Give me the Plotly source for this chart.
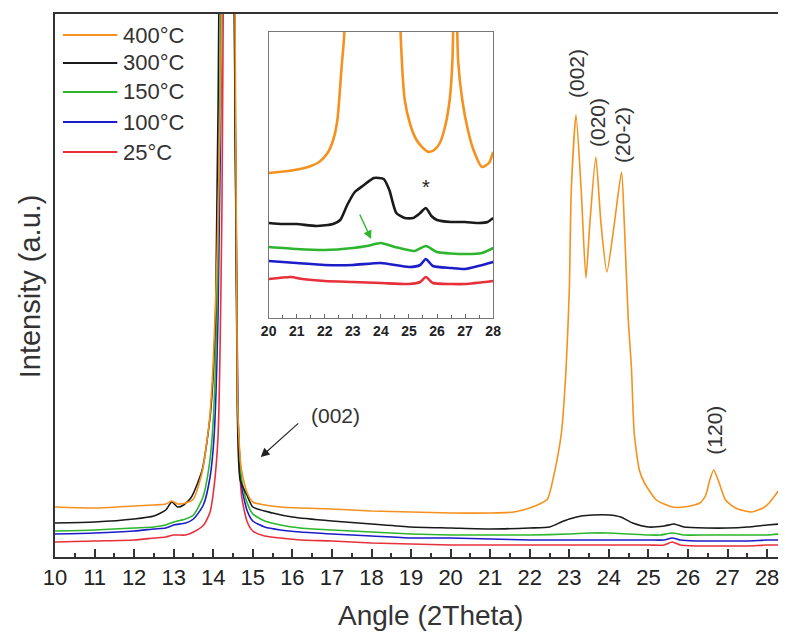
import plotly.graph_objects as go

# ---------------- data: XRD scans, 2θ in degrees, intensity in a.u. (stacked) ----------------
x_400 = [10.0, 11.0, 12.0, 12.5, 12.8, 12.95, 13.1, 13.3, 13.5, 13.72, 13.9, 14.0, 14.1, 14.21, 14.31,
         14.41, 14.51, 14.61, 14.71, 14.85, 15.0, 15.3, 15.7, 16.2, 17.0, 18.0, 19.0, 20.0, 21.0, 21.6,
         22.0, 22.3, 22.45, 22.6, 22.8, 22.92, 23.0, 23.05, 23.17, 23.3, 23.42, 23.52, 23.67, 23.8, 23.95,
         24.14, 24.32, 24.39, 24.49, 24.57, 24.64, 24.77, 24.9, 25.2, 25.6, 25.9, 26.3, 26.45, 26.55, 26.65,
         26.78, 26.95, 27.2, 27.6, 27.9, 28.05, 28.3]
i_400 = [50, 49, 51, 52, 53, 56, 53, 54, 58, 85, 135, 195, 305, 520, 1100,
         1700, 1000, 160, 88, 65, 55, 52, 50, 49, 48, 46, 45, 44, 44, 45,
         49, 54, 58, 80, 124, 190, 267, 367, 442, 367, 279, 334, 400, 334, 285,
         334, 385, 334, 237, 190, 124, 87, 74, 57, 50, 50, 54, 62, 77, 87,
         75, 57, 49, 45, 49, 54, 67]

x_300 = [10.0, 11.0, 12.0, 12.5, 12.8, 12.95, 13.1, 13.25, 13.45, 13.72, 13.93, 14.06, 14.16, 14.26, 14.36,
         14.48, 14.61, 14.68, 14.85, 15.0, 15.5, 16.0, 17.0, 18.0, 19.0, 20.0, 21.0, 22.0, 22.5, 22.8,
         23.0, 23.3, 23.6, 24.0, 24.3, 24.6, 25.0, 25.4, 25.65, 25.9, 26.5, 27.0, 27.5, 28.0, 28.3]
i_300 = [34, 35, 38, 41, 47, 55, 50, 52, 60, 87, 144, 244, 650, 1400, 1500,
         900, 144, 77, 62, 50, 44, 40, 36, 33, 30, 29, 28, 29, 30, 35,
         38, 41, 42, 42, 40, 34, 30, 31, 33, 30, 29, 29, 30, 32, 33]

x_150 = [10.0, 11.0, 12.0, 12.5, 12.8, 13.0, 13.3, 13.5, 13.74, 13.91, 14.01, 14.11, 14.21, 14.36, 14.51,
         14.61, 14.71, 14.85, 15.0, 15.3, 15.7, 16.2, 17.0, 18.0, 19.0, 20.0, 21.0, 22.0, 23.0, 23.5,
         24.0, 24.5, 25.0, 25.3, 25.6, 25.9, 26.5, 27.0, 27.5, 28.0, 28.3]
i_150 = [26, 27, 29, 30, 32, 35, 38, 42, 60, 95, 144, 280, 620, 1500, 750,
         160, 80, 55, 43, 36, 32, 29, 27, 25, 23, 22, 22, 22, 23, 24,
         24, 23, 22, 22, 24, 22, 22, 22, 22, 22, 23]

x_100 = [10.0, 11.0, 12.0, 12.5, 12.8, 13.0, 13.3, 13.5, 13.75, 13.92, 14.02, 14.12, 14.22, 14.37, 14.52,
         14.62, 14.72, 14.86, 15.0, 15.3, 15.7, 16.2, 17.0, 18.0, 19.0, 20.0, 21.0, 22.0, 23.0, 24.0,
         25.0, 25.4, 25.6, 25.8, 26.2, 27.0, 27.5, 28.0, 28.3]
i_100 = [23, 24, 26, 28, 29, 32, 34, 38, 52, 80, 120, 240, 560, 1500, 720,
         150, 70, 46, 36, 30, 27, 25, 23, 21, 19, 19, 18, 17, 17, 17,
         17, 17, 19, 17, 16, 16, 16, 17, 17]

x_25 = [10.0, 11.0, 12.0, 12.5, 12.8, 13.0, 13.3, 13.5, 13.76, 13.92, 14.02, 14.12, 14.22, 14.32, 14.42,
        14.52, 14.62, 14.72, 14.86, 15.0, 15.3, 15.7, 16.2, 17.0, 18.0, 19.0, 20.0, 21.0, 22.0, 23.0,
        24.0, 25.0, 25.4, 25.6, 25.8, 26.2, 27.0, 27.5, 28.0, 28.3]
i_25 = [15, 16, 17, 19, 20, 22, 22, 25, 32, 45, 70, 120, 350, 1000, 1500,
        700, 140, 60, 35, 26, 21, 19, 17, 16, 14, 13, 12, 12, 12, 12,
        12, 12, 12, 15, 12, 11, 11, 11, 12, 12]

# ---------------- inset data: 20-28° region, expanded intensity scale ----------------
xi_400 = [20.0, 20.7, 21.4, 21.8, 22.1, 22.3, 22.45, 22.6, 22.7, 23.2, 23.7, 24.3, 24.7, 24.85, 25.05,
          25.27, 25.5, 25.7, 25.9, 26.1, 26.3, 26.45, 26.55, 26.65, 26.75, 26.9, 27.1, 27.3, 27.6, 27.85, 28.0]
ii_400 = [145, 147, 151, 156, 165, 178, 198, 251, 286, 900, 780, 820, 286, 218, 193,
          178, 170, 166, 168, 175, 193, 218, 258, 400, 258, 218, 188, 168, 151, 155, 166]

xi_300 = [20.0, 20.5, 21.0, 21.7, 22.3, 22.55, 22.8, 23.07, 23.4, 23.75, 24.1, 24.3, 24.55, 24.85, 25.15,
          25.4, 25.6, 25.8, 26.0, 26.5, 27.0, 27.5, 27.8, 28.0]
ii_300 = [95, 94, 94, 92, 94, 98, 113, 126, 133, 140, 139, 128, 105, 100, 100,
          105, 110, 102, 98, 96, 96, 95, 96, 100]

xi_150 = [20.0, 21.0, 22.0, 23.0, 23.5, 24.0, 24.5, 25.2, 25.6, 26.0, 27.0, 27.6, 28.0]
ii_150 = [71, 69, 68, 70, 72, 75, 71, 67, 72, 66, 64, 65, 70]

xi_100 = [20.0, 21.0, 22.0, 23.0, 24.0, 25.0, 25.4, 25.6, 25.85, 26.5, 27.0, 28.0]
ii_100 = [57, 55, 53, 53, 55, 51, 53, 59, 52, 50, 49, 56]

xi_25 = [20.0, 20.8, 21.2, 22.0, 23.0, 24.0, 25.0, 25.4, 25.6, 25.85, 26.5, 27.0, 28.0]
ii_25 = [39, 41, 39, 37, 36, 35, 34, 36, 41, 35, 34, 34, 37]

labels = ["400°C", "300°C", "150°C", "100°C", "25°C"]
colors = ["#F5911E", "#1A1A1A", "#2DB52D", "#1C1CC8", "#E8303A"]
main_x = [x_400, x_300, x_150, x_100, x_25]
main_y = [i_400, i_300, i_150, i_100, i_25]
inset_x = [xi_400, xi_300, xi_150, xi_100, xi_25]
inset_y = [ii_400, ii_300, ii_150, ii_100, ii_25]

# ---------------- page geometry ----------------
W, H = 786, 637
ML, MR, MT, MB = 55, 0, 14, 80
FONT = "Liberation Sans, Arial, sans-serif"
AXC = "#333333"


def pxx(xp):
    return (xp - ML) / (W - ML - MR)


def pxy(yp):
    return (H - MB - yp) / (H - MT - MB)


fig = go.Figure()

# main panel, drawn bottom curve first
for k in reversed(range(5)):
    fig.add_trace(go.Scatter(
        x=main_x[k], y=main_y[k], mode="lines", name=labels[k], showlegend=False,
        line=dict(color=colors[k], width=1.6, shape="spline", smoothing=0.6),
        xaxis="x", yaxis="y", hoverinfo="skip"))

# inset panel
for k in reversed(range(5)):
    fig.add_trace(go.Scatter(
        x=inset_x[k], y=inset_y[k], mode="lines", name=labels[k], showlegend=False,
        line=dict(color=colors[k], width=2.6, shape="spline", smoothing=0.6),
        xaxis="x2", yaxis="y2", hoverinfo="skip"))

shapes = []
annotations = []

# hand-drawn legend block
leg_rows = [35, 63, 92, 122, 152]
for k in range(5):
    shapes.append(dict(type="line", xref="paper", yref="paper",
                       x0=pxx(63), x1=pxx(118), y0=pxy(leg_rows[k]), y1=pxy(leg_rows[k]),
                       line=dict(color=colors[k], width=1.8)))
    annotations.append(dict(xref="paper", yref="paper", x=pxx(122), y=pxy(leg_rows[k]),
                            text=labels[k], showarrow=False, xanchor="left", yanchor="middle",
                            font=dict(family=FONT, size=22, color=AXC)))

# reflection labels on the 400°C scan
peak_tags = [("(002)", 23.17, 483), ("(020)", 23.7, 434), ("(20-2)", 24.33, 422), ("(120)", 26.65, 127)]
for txt, xv, yv in peak_tags:
    annotations.append(dict(xref="x", yref="y", x=xv, y=yv, text=txt, textangle=-90,
                            showarrow=False, xanchor="center", yanchor="middle",
                            font=dict(family=FONT, size=21, color=AXC)))

# (002) arrow near the main reflection
annotations.append(dict(xref="x", yref="y", x=15.2, y=100, ax=39, ay=-35, text="",
                        showarrow=True, arrowhead=2, arrowsize=1.6, arrowwidth=1.1, arrowcolor="#222"))
annotations.append(dict(xref="x", yref="y", x=17.1, y=142, text="(002)", showarrow=False,
                        xanchor="center", yanchor="middle", font=dict(family=FONT, size=21, color=AXC)))

# inset marks
annotations.append(dict(xref="x2", yref="y2", x=25.6, y=131, text="*", showarrow=False,
                        font=dict(family=FONT, size=20, color="#222")))
annotations.append(dict(xref="x2", yref="y2", x=23.65, y=79, ax=-12, ay=-26, text="",
                        showarrow=True, arrowhead=2, arrowsize=1.2, arrowwidth=1.4, arrowcolor="#2DB52D"))

# axis titles
annotations.append(dict(xref="paper", yref="paper", x=pxx(435), y=pxy(615), text="Angle (2Theta)",
                        showarrow=False, xanchor="center", yanchor="middle",
                        font=dict(family=FONT, size=28, color=AXC)))
annotations.append(dict(xref="paper", yref="paper", x=pxx(30), y=pxy(286), text="Intensity (a.u.)",
                        textangle=-90, showarrow=False, xanchor="center", yanchor="middle",
                        font=dict(family=FONT, size=29, color=AXC)))

fig.update_layout(
    width=W, height=H, autosize=False,
    margin=dict(l=ML, r=MR, t=MT, b=MB, pad=0),
    paper_bgcolor="white", plot_bgcolor="white",
    showlegend=False,
    font=dict(family=FONT, color=AXC),
    xaxis=dict(domain=[0, 1], range=[10, 10 + (W - ML - MR) / 40.0], anchor="y",
               tickmode="linear", tick0=10, dtick=1, ticks="inside", ticklen=8, tickwidth=1.5,
               tickcolor=AXC, minor=dict(ticks="inside", ticklen=4, tickwidth=1.5, dtick=0.5, tickcolor=AXC),
               showline=True, linecolor=AXC, linewidth=2, mirror=True,
               showgrid=False, zeroline=False, tickfont=dict(family=FONT, size=22, color="#222")),
    yaxis=dict(domain=[0, 1], range=[0, H - MT - MB], anchor="x",
               showticklabels=False, ticks="", showline=True, linecolor=AXC, linewidth=2,
               showgrid=False, zeroline=False),
    xaxis2=dict(domain=[pxx(271), pxx(498)], range=[20, 28], anchor="y2",
                tickmode="linear", tick0=20, dtick=1, ticks="inside", ticklen=4, tickwidth=1,
                tickcolor="#666", minor=dict(ticks="inside", ticklen=3, dtick=0.5, tickcolor="#666"),
                showline=True, linecolor="#777", linewidth=1, mirror=True,
                showgrid=False, zeroline=False,
                tickfont=dict(family=FONT, size=14, color="#222", weight="bold")),
    yaxis2=dict(domain=[pxy(318), pxy(32)], range=[0, 286], anchor="x2",
                showticklabels=False, ticks="", showline=True, linecolor="#777", linewidth=1, mirror=True,
                showgrid=False, zeroline=False),
    shapes=shapes,
    annotations=annotations,
)

fig.write_html("out.html")
